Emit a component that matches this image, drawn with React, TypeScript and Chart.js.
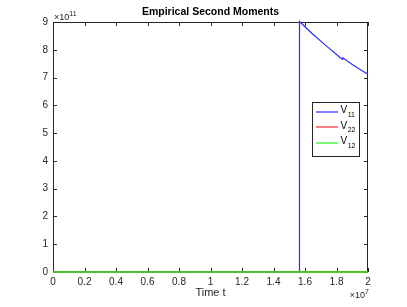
import React, { useEffect, useRef } from 'react';
import { Chart, registerables } from 'chart.js';

Chart.register(...registerables);

const FONT = "'Liberation Sans', Arial, Helvetica, sans-serif";
const AXIS_COLOR = '#262626';

const chartTitle = 'Empirical Second Moments';
const xAxisTitle = 'Time t';
const xExponent = '7';
const yExponent = '11';

const seriesNames = ['V', 'V', 'V'];
const seriesSubs = ['11', '22', '12'];
const seriesColors = ['#2b2bff', '#ff2b2b', '#22ee22'];

const timeV11 = [0, 1.564e7, 1.565e7, 1.6e7, 1.65e7, 1.7e7, 1.75e7, 1.8e7, 1.835e7, 1.84e7, 1.9e7, 1.95e7, 2.0e7];
const v11 = [0, 0, 9.02e11, 8.83e11, 8.56e11, 8.31e11, 8.07e11, 7.83e11, 7.66e11, 7.71e11, 7.47e11, 7.29e11, 7.12e11];
const timeOther = [0, 2.0e7];
const v22 = [0, 0];
const v12 = [0, 0];

const xMin = 0;
const xMax = 2e7;
const xStep = 2e6;
const yMin = 0;
const yMax = 9e11;
const yStep = 1e11;

const toPoints = (xs: number[], ys: number[]) => xs.map((x, i) => ({ x, y: ys[i] }));

const framePlugin = {
  id: 'frame',
  beforeDatasetsDraw(chart: any) {
    const { ctx, chartArea } = chart;
    const { left, right, top, bottom } = chartArea;
    const xs = chart.scales.x;
    const ys = chart.scales.y;
    ctx.save();
    ctx.strokeStyle = AXIS_COLOR;
    ctx.lineWidth = 1;
    ctx.strokeRect(left + 0.5, top + 0.5, right - left - 1, bottom - top - 1);
    ctx.beginPath();
    const tl = 4;
    xs.ticks.forEach((t: any) => {
      const px = Math.round(xs.getPixelForValue(t.value)) + 0.5;
      ctx.moveTo(px, bottom);
      ctx.lineTo(px, bottom - tl);
      ctx.moveTo(px, top);
      ctx.lineTo(px, top + tl);
    });
    ys.ticks.forEach((t: any) => {
      const py = Math.round(ys.getPixelForValue(t.value)) + 0.5;
      ctx.moveTo(left, py);
      ctx.lineTo(left + tl, py);
      ctx.moveTo(right, py);
      ctx.lineTo(right - tl, py);
    });
    ctx.stroke();
    ctx.restore();
  },
  afterDraw(chart: any) {
    const { ctx, chartArea } = chart;
    const { left, right, top, bottom } = chartArea;
    ctx.save();
    ctx.fillStyle = '#000';
    ctx.textBaseline = 'middle';
    // title
    ctx.font = `bold 10.5px ${FONT}`;
    ctx.textAlign = 'center';
    ctx.fillText(chartTitle, (left + right) / 2, top - 10);
    // y exponent
    ctx.fillStyle = AXIS_COLOR;
    ctx.textAlign = 'left';
    ctx.font = `9px ${FONT}`;
    ctx.fillText('\u00d710', left + 1, top - 4);
    const w1 = ctx.measureText('\u00d710').width;
    ctx.font = `7px ${FONT}`;
    ctx.fillText(yExponent, left + 1 + w1, top - 8);
    // x exponent
    ctx.font = `9px ${FONT}`;
    const w2 = ctx.measureText('\u00d710').width;
    ctx.font = `7px ${FONT}`;
    const w3 = ctx.measureText(xExponent).width;
    ctx.font = `9px ${FONT}`;
    const xs0 = right - w2 - w3 + 1;
    ctx.fillText('\u00d710', xs0, bottom + 24);
    ctx.font = `7px ${FONT}`;
    ctx.fillText(xExponent, xs0 + w2, bottom + 20);

    // legend
    const bx = 312.5, by = 102.5, bw = 47, bh = 54;
    ctx.fillStyle = '#fff';
    ctx.fillRect(bx, by, bw, bh);
    ctx.strokeStyle = AXIS_COLOR;
    ctx.lineWidth = 1;
    ctx.strokeRect(bx, by, bw, bh);
    const rows = [111.5, 127, 142.5];
    chart.data.datasets.forEach((ds: any, i: number) => {
      const ry = rows[i];
      ctx.strokeStyle = ds.borderColor;
      ctx.lineWidth = 1.2;
      ctx.beginPath();
      ctx.moveTo(316, Math.round(ry));
      ctx.lineTo(338, Math.round(ry));
      ctx.stroke();
      ctx.fillStyle = '#000';
      ctx.font = `10px ${FONT}`;
      ctx.textAlign = 'left';
      ctx.fillText(seriesNames[i], 340.5, ry - 1);
      const vw = ctx.measureText(seriesNames[i]).width;
      ctx.font = `7px ${FONT}`;
      ctx.fillText(seriesSubs[i], 340.5 + vw + 0.5, ry + 3.5);
    });
    ctx.restore();
  },
};

export default function App() {
  const ref = useRef<HTMLCanvasElement | null>(null);
  useEffect(() => {
    if (!ref.current) return;
    const chart = new Chart(ref.current, {
      type: 'line',
      data: {
        datasets: [
          {
            label: seriesNames[0] + seriesSubs[0],
            data: toPoints(timeV11, v11),
            borderColor: seriesColors[0],
            borderWidth: 1.2,
            pointRadius: 0,
            tension: 0,
            clip: 2,
            order: 3,
          },
          {
            label: seriesNames[1] + seriesSubs[1],
            data: toPoints(timeOther, v22),
            borderColor: seriesColors[1],
            borderWidth: 1.5,
            pointRadius: 0,
            tension: 0,
            clip: 2,
            order: 2,
          },
          {
            label: seriesNames[2] + seriesSubs[2],
            data: toPoints(timeOther, v12),
            borderColor: seriesColors[2],
            borderWidth: 1.5,
            pointRadius: 0,
            tension: 0,
            clip: 2,
            order: 1,
          },
        ],
      },
      options: {
        responsive: false,
        animation: false,
        devicePixelRatio: 1,
        layout: { padding: { top: 22, right: 39, left: 0, bottom: 0 } },
        plugins: {
          legend: { display: false },
          title: { display: false },
          tooltip: { enabled: false },
        },
        scales: {
          x: {
            type: 'linear',
            min: xMin,
            max: xMax,
            grid: { display: false, drawTicks: false },
            border: { display: false },
            ticks: {
              stepSize: xStep,
              autoSkip: false,
              maxRotation: 0,
              padding: 4,
              color: AXIS_COLOR,
              font: { family: FONT, size: 10 },
              callback: (v: any) => String(parseFloat((Number(v) / 1e7).toFixed(1))),
            },
            title: {
              display: true,
              text: xAxisTitle,
              color: AXIS_COLOR,
              font: { family: FONT, size: 11 },
              padding: { top: 0, bottom: 7 },
            },
            afterFit: (s: any) => {
              s.height = 35;
            },
          },
          y: {
            type: 'linear',
            min: yMin,
            max: yMax,
            grid: { display: false, drawTicks: false },
            border: { display: false },
            ticks: {
              stepSize: yStep,
              padding: 5,
              color: AXIS_COLOR,
              font: { family: FONT, size: 10 },
              callback: (v: any) => String(Math.round(Number(v) / 1e11)),
            },
            afterFit: (s: any) => {
              s.width = 53;
            },
          },
        },
      },
      plugins: [framePlugin],
    });
    return () => chart.destroy();
  }, []);
  return (
    <div style={{ position: 'absolute', left: 0, top: 0, width: 407, height: 307, background: '#fff' }}>
      <canvas ref={ref} width={407} height={307} style={{ width: 407, height: 307, display: 'block' }} />
    </div>
  );
}
